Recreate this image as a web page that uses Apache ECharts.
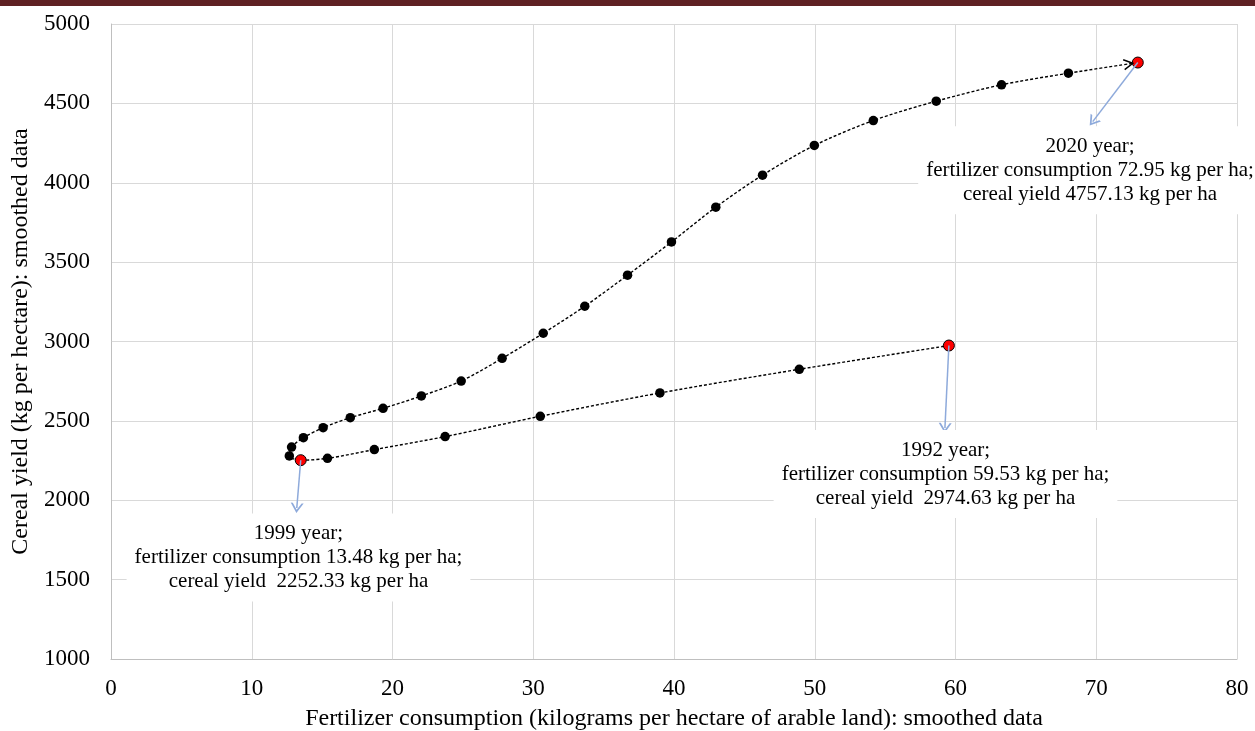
<!DOCTYPE html>
<html>
<head>
<meta charset="utf-8">
<script src="https://cdn.jsdelivr.net/npm/echarts@6/dist/echarts.min.js"></script>
<style>
  html, body { margin: 0; padding: 0; background: #fff; }
  #chart { width: 1255px; height: 731px; }
</style>
</head>
<body>
<div id="chart"></div>
<script>
// Smoothed series, 1992 to 2020, in year order
const years = [1992, 1993, 1994, 1995, 1996, 1997, 1998, 1999, 2000, 2001,
               2002, 2003, 2004, 2005, 2006, 2007, 2008, 2009, 2010, 2011,
               2012, 2013, 2014, 2015, 2016, 2017, 2018, 2019, 2020];
// Fertilizer consumption, kg per hectare of arable land
const fertilizer = [59.53, 48.9, 39.0, 30.5, 23.74, 18.71, 15.38, 13.48, 12.67, 12.83,
                    13.67, 15.07, 17.0, 19.33, 22.05, 24.88, 27.79, 30.71, 33.66, 36.7,
                    39.82, 42.97, 46.29, 49.97, 54.16, 58.63, 63.27, 68.02, 72.95];
// Cereal yield, kg per hectare
const cerealYield = [2974.63, 2825, 2676, 2529, 2401, 2319, 2264, 2252.33, 2279, 2335,
                     2394, 2457, 2520, 2579, 2657, 2751, 2894, 3052, 3222, 3418,
                     3627, 3846, 4048, 4235, 4392, 4514, 4617, 4690, 4757.13];
// Years picked out with red markers and callouts
const calloutYears = [2020, 1992, 1999];

// Axis ranges and tick steps
const xTicks = { min: 0, max: 80, step: 10 };
const yTicks = { min: 1000, max: 5000, step: 500 };

// Callout placement (data coordinates): arrow tip and text box centre
const calloutLayout = {
  2020: { tip: [69.75, 4385], box: [69.56, 4078], gap: ' ' },
  1992: { tip: [59.25, 2455], box: [59.29, 2165], gap: '  ' },
  1999: { tip: [13.2, 1951],  box: [13.32, 1640], gap: '  ' }
};

const SERIF = '"Liberation Serif", "Times New Roman", serif';
// open chevron pointing up (ECharts rotates it along the line)
const CHEVRON = 'path://M0,10 L5,0 L10,10 L8.4,10 L5,3.2 L1.6,10 Z';

const pts = years.map((yr, i) => {
  const item = { value: [fertilizer[i], cerealYield[i]], name: String(yr) };
  if (calloutYears.includes(yr)) {
    item.symbolSize = 11;
    item.itemStyle = { color: '#ff0000', borderColor: '#000', borderWidth: 1 };
  }
  return item;
});

const last = years.length - 1;

const calloutText = yr => {
  const i = years.indexOf(yr);
  const lay = calloutLayout[yr];
  return yr + ' year;\nfertilizer consumption ' + fertilizer[i].toFixed(2) +
         ' kg per ha;\ncereal yield' + lay.gap + cerealYield[i].toFixed(2) + ' kg per ha';
};

const calloutArrows = calloutYears.map(yr => {
  const i = years.indexOf(yr);
  return [{ coord: [fertilizer[i], cerealYield[i]] }, { coord: calloutLayout[yr].tip }];
});

const chart = echarts.init(document.getElementById('chart'), null, { renderer: 'canvas' });

chart.setOption({
  animation: false,
  backgroundColor: '#fff',
  textStyle: { fontFamily: SERIF },
  grid: { left: 111, right: 18, top: 24, bottom: 72, outerBoundsMode: 'none', containLabel: false },
  graphic: [{
    id: 'topBar',
    type: 'rect', left: 0, top: 0, z: 100,
    shape: { width: 1255, height: 6 },
    style: { fill: '#5f2123' }
  }],
  xAxis: {
    type: 'value',
    min: xTicks.min, max: xTicks.max, interval: xTicks.step,
    name: 'Fertilizer consumption (kilograms per hectare of arable land): smoothed data',
    nameLocation: 'middle', nameGap: 48,
    nameTextStyle: { fontFamily: SERIF, fontSize: 24, color: '#000' },
    axisLine: { show: true, lineStyle: { color: '#bfbfbf', width: 1 } },
    axisTick: { show: false },
    axisLabel: { fontFamily: SERIF, fontSize: 23, color: '#000', margin: 18, formatter: v => String(v) },
    splitLine: { show: true, lineStyle: { color: '#d9d9d9', width: 1 } }
  },
  yAxis: {
    type: 'value',
    min: yTicks.min, max: yTicks.max, interval: yTicks.step,
    name: 'Cereal yield (kg per hectare): smoothed data',
    nameLocation: 'middle', nameGap: 76,
    nameTextStyle: { fontFamily: SERIF, fontSize: 24, color: '#000' },
    axisLine: { show: true, lineStyle: { color: '#bfbfbf', width: 1 } },
    axisTick: { show: false },
    axisLabel: { fontFamily: SERIF, fontSize: 23, color: '#000', margin: 21, formatter: v => String(v) },
    splitLine: { show: true, lineStyle: { color: '#d9d9d9', width: 1 } }
  },
  series: [
    {
      name: 'trajectory',
      type: 'line',
      data: pts,
      smooth: 0.3,
      symbol: 'circle',
      symbolSize: 9.5,
      showAllSymbol: true,
      itemStyle: { color: '#000' },
      lineStyle: { color: '#000', width: 1.4, type: [3, 2] },
      z: 3,
      markLine: {
        silent: true,
        symbol: ['none', CHEVRON],
        symbolSize: [13, 10],
        label: { show: false },
        lineStyle: { color: '#8eaadb', width: 1.5, type: 'solid' },
        data: calloutArrows
      }
    }
  ]
});

// Overlays placed from data coordinates: callout boxes and the direction arrowhead
function drawOverlays() {
  const px = (x, y) => chart.convertToPixel({ gridIndex: 0 }, [x, y]);

  const boxes = calloutYears.map(yr => {
    const c = px(calloutLayout[yr].box[0], calloutLayout[yr].box[1]);
    return {
      id: 'callout' + yr,
      type: 'text',
      z: 60,
      x: c[0],
      y: c[1],
      style: {
        text: calloutText(yr),
        font: '21px ' + SERIF,
        fill: '#000',
        align: 'center',
        verticalAlign: 'middle',
        lineHeight: 24,
        backgroundColor: '#fff',
        padding: [8, 8]
      }
    };
  });

  const a = px(fertilizer[last - 1], cerealYield[last - 1]);
  const b = px(fertilizer[last], cerealYield[last]);
  const dx = b[0] - a[0], dy = b[1] - a[1];
  const len = Math.hypot(dx, dy);
  const ux = dx / len, uy = dy / len;
  const tip = [b[0] - ux * 5, b[1] - uy * 5];
  const back = 9, half = 5;
  const base = [tip[0] - ux * back, tip[1] - uy * back];
  const p1 = [base[0] - uy * half, base[1] + ux * half];
  const p2 = [base[0] + uy * half, base[1] - ux * half];

  chart.setOption({
    graphic: boxes.concat([{
      id: 'endArrow',
      type: 'polyline',
      z: 50,
      shape: { points: [p1, tip, p2] },
      style: { stroke: '#000', lineWidth: 1.5, fill: null }
    }])
  });
}
drawOverlays();
</script>
</body>
</html>
